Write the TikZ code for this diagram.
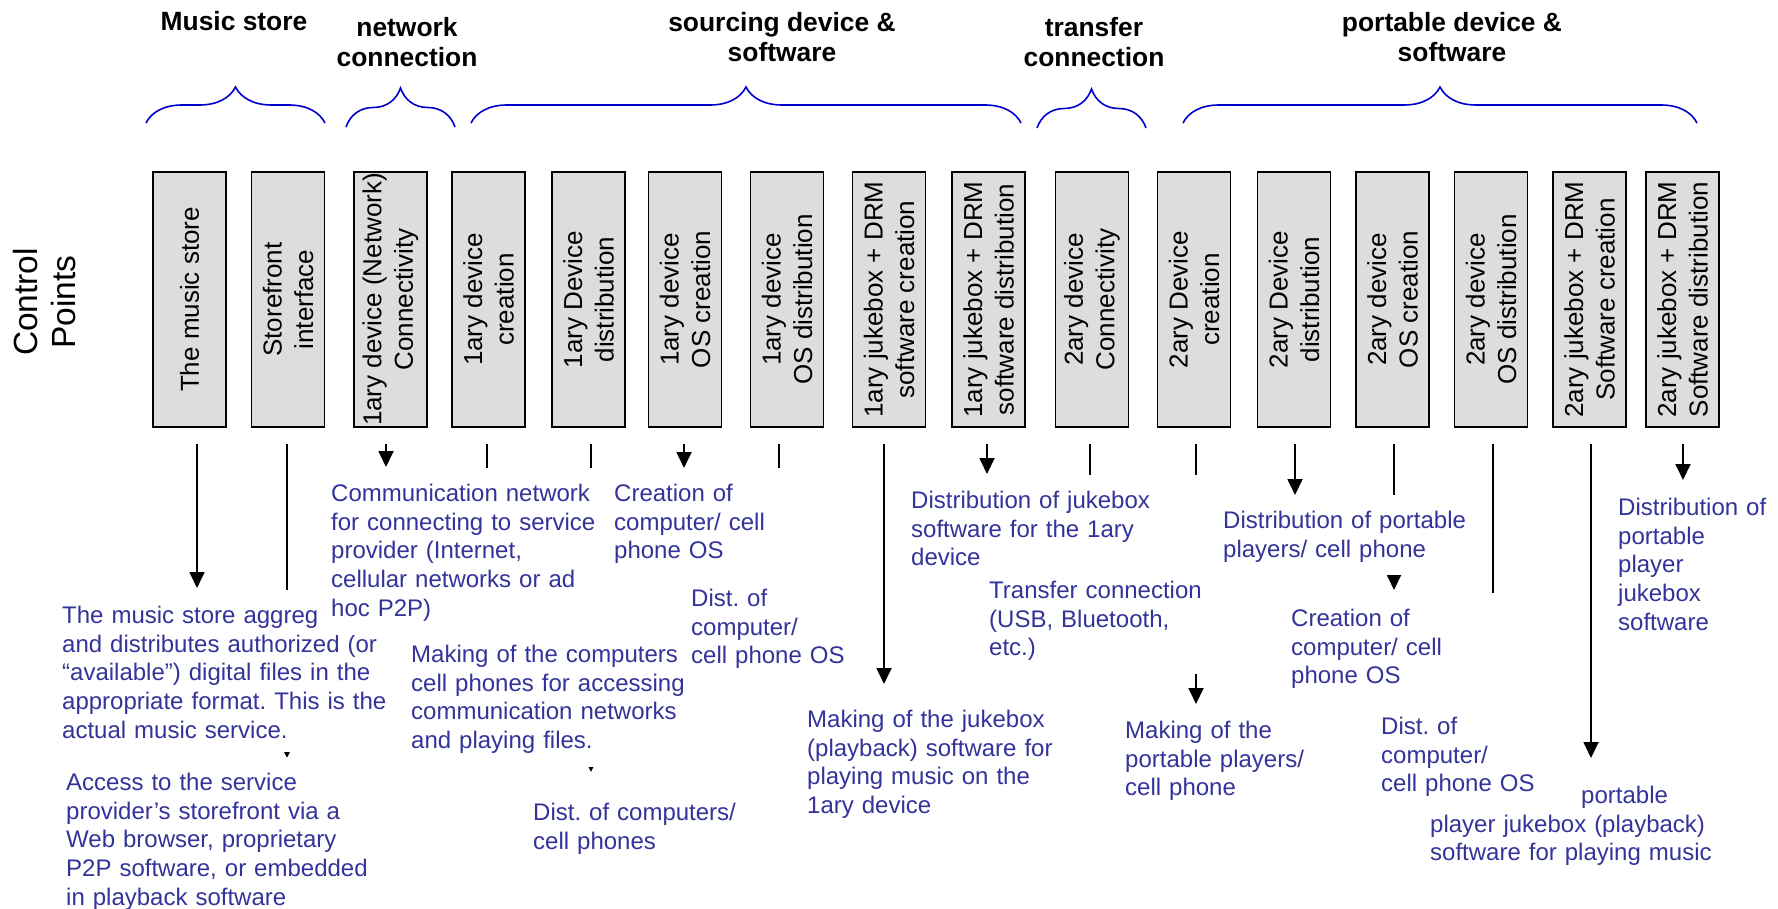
\documentclass[tikz,border=0pt]{standalone}
\usepackage{fontspec}
\setmainfont{Liberation Sans}
\usetikzlibrary{arrows.meta, decorations.pathreplacing}
\frenchspacing

\definecolor{txtblue}{RGB}{51,51,153}
\definecolor{braceblue}{RGB}{0,0,204}
\definecolor{boxgray}{RGB}{221,221,221}

\tikzset{
  cpbox/.style={draw=black, line width=1.8pt, fill=boxgray, rotate=90,
    minimum width=255pt, minimum height=73pt, inner sep=0pt, align=center,
    font=\fontsize{26}{31.5}\selectfont},
  grouplabel/.style={font=\bfseries\fontsize{26.4}{30}\selectfont, align=center},
  grp/.style={draw=braceblue, line width=1.6pt, decorate, decoration={brace, amplitude=#1}},
  arr/.style={line width=1.8pt, -{Triangle[length=16pt, width=15pt]}, shorten <=16pt},
  stub/.style={line width=1.8pt, shorten <=16pt},
  txt/.style={fill=white, text=txtblue, anchor=north west, align=left,
    inner xsep=8pt, inner ysep=13pt, font=\fontsize{24}{28.8}\selectfont,
    execute at begin node=\strut},
}

\begin{document}
\begin{tikzpicture}[x=1pt, y=-1pt]
    \useasboundingbox (0,0) rectangle (1778,909);

    % groups along the top
    \node[grouplabel] (hstore) at (234,21) {Music store};
    \node[grouplabel] (hnet) at (407,42) {network\\connection};
    \node[grouplabel] (hsrc) at (782,37) {sourcing device \&\\software};
    \node[grouplabel] (htrans) at (1094,42) {transfer\\connection};
    \node[grouplabel] (hport) at (1452,37) {portable device \&\\software};

    \draw[grp=36pt] (146,123) -- (325,123);
    \draw[grp=39pt] (346,127) -- (455,127);
    \draw[grp=36pt] (471,123) -- (1021,123);
    \draw[grp=39pt] (1037,128) -- (1146,128);
    \draw[grp=36pt] (1183,123) -- (1697,123);

    \node[rotate=90, align=center, font=\fontsize{33.5}{38}\selectfont] (cp) at (45,302) {Control\\Points};

    % control points
    \node[cpbox] (b1) at (189.5,299.5) {The music store};
    \node[cpbox] (b2) at (288,299.5) {Storefront\\interface};
    \node[cpbox] (b3) at (390.5,299.5) {1ary device (Network)\\Connectivity};
    \node[cpbox] (b4) at (488.5,299.5) {1ary device\\creation};
    \node[cpbox] (b5) at (588.5,299.5) {1ary Device\\distribution};
    \node[cpbox] (b6) at (685,299.5) {1ary device\\OS creation};
    \node[cpbox] (b7) at (787,299.5) {1ary device\\OS distribution};
    \node[cpbox] (b8) at (889,299.5) {1ary jukebox + DRM\\software creation};
    \node[cpbox] (b9) at (988.5,299.5) {1ary jukebox + DRM\\software distribution};
    \node[cpbox] (b10) at (1092,299.5) {2ary device\\Connectivity};
    \node[cpbox] (b11) at (1194,299.5) {2ary Device\\creation};
    \node[cpbox] (b12) at (1294,299.5) {2ary Device\\distribution};
    \node[cpbox] (b13) at (1392.5,299.5) {2ary device\\OS creation};
    \node[cpbox] (b14) at (1491,299.5) {2ary device\\OS distribution};
    \node[cpbox] (b15) at (1589.5,299.5) {2ary jukebox + DRM\\Software creation};
    \node[cpbox] (b16) at (1682.5,299.5) {2ary jukebox + DRM\\Software distribution};

    % where each line ends
    \coordinate (t1) at (197,588);
    \coordinate (t2) at (287,758);
    \coordinate (t3) at (386,467);
    \coordinate (t4) at (487,476);
    \coordinate (t5) at (591,772);
    \coordinate (t6) at (684,468);
    \coordinate (t7) at (779,476);
    \coordinate (t8) at (884,684);
    \coordinate (t9) at (987,474);
    \coordinate (t10) at (1090,482);
    \coordinate (t11) at (1196,704);
    \coordinate (t12) at (1295,495);
    \coordinate (t13) at (1394,590);
    \coordinate (t14) at (1493,600);
    \coordinate (t15) at (1591,758);
    \coordinate (t16) at (1683,480);

    \draw[arr] (b1.west -| t1) -- (t1);
    \draw[arr] (b2.west -| t2) -- (t2);
    \draw[arr] (b3.west -| t3) -- (t3);
    \draw[stub] (b4.west -| t4) -- (t4);
    \draw[arr] (b5.west -| t5) -- (t5);
    \draw[arr] (b6.west -| t6) -- (t6);
    \draw[stub] (b7.west -| t7) -- (t7);
    \draw[arr] (b8.west -| t8) -- (t8);
    \draw[arr] (b9.west -| t9) -- (t9);
    \draw[stub] (b10.west -| t10) -- (t10);
    \draw[arr] (b11.west -| t11) -- (t11);
    \draw[arr] (b12.west -| t12) -- (t12);
    \draw[arr] (b13.west -| t13) -- (t13);
    \draw[stub] (b14.west -| t14) -- (t14);
    \draw[arr] (b15.west -| t15) -- (t15);
    \draw[arr] (b16.west -| t16) -- (t16);

    % descriptions (white boxes hide the lines behind them)
    \node[txt, text width=330pt] (store) at (54,590) {The music store aggreg\\and distributes authorized (or\\“available”) digital files in the\\appropriate format. This is the\\actual music service.};
    \node[txt, text width=280pt] (net) at (323,468) {Communication network\\for connecting to service\\provider (Internet,\\cellular networks or ad\\hoc P2P)};
    \node[txt, text width=310pt] (access) at (58,757) {Access to the service\\provider’s storefront via a\\Web browser, proprietary\\P2P software, or embedded\\in playback software};
    \node[txt, text width=275pt] (makepc) at (403,629) {Making of the computers\\cell phones for accessing\\communication networks\\and playing files.};
    \node[txt, text width=215pt] (distpc) at (525,787) {Dist. of computers/\\cell phones};
    \node[txt, text width=168pt] (makeos) at (606,468) {Creation of\\computer/ cell\\phone OS};
    \node[txt, text width=160pt] (distos) at (683,573) {Dist. of\\computer/\\cell phone OS};
    \node[txt, text width=287pt] (distjb) at (903,475) {Distribution of jukebox\\software for the 1ary\\device};
    \node[txt, text width=218pt] (transfer) at (981,565) {Transfer connection\\(USB, Bluetooth,\\etc.)};
    \node[txt, text width=255pt] (makejb) at (799,694) {Making of the jukebox\\(playback) software for\\playing music on the\\1ary device};
    \node[txt, text width=250pt] (distport) at (1215,495) {Distribution of portable\\players/ cell phone};
    \node[txt, text width=204pt] (makeos2) at (1283,593) {Creation of\\computer/ cell\\phone OS};
    \node[txt, text width=190pt] (makeport) at (1117,705) {Making of the\\portable players/\\cell phone};
    \node[txt, text width=290pt, fill=none] (makejb2) at (1422,770) {\hspace*{151pt}portable\\player jukebox (playback)\\software for playing music};
    \node[txt, text width=170pt] (distos2) at (1373,701) {Dist. of\\computer/\\cell phone OS};
    \node[txt, text width=150pt] (distjb2) at (1610,482) {Distribution of\\portable\\player\\jukebox\\software};
\end{tikzpicture}
\end{document}
